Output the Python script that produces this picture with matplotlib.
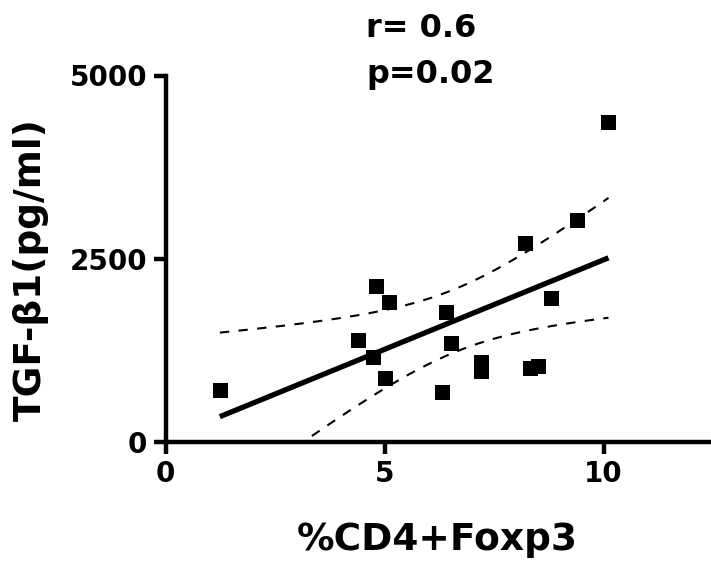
import matplotlib
matplotlib.use("Agg")
import matplotlib.pyplot as plt
import numpy as np

# %CD4+Foxp3 vs TGF-beta1 (pg/ml)
cd4_foxp3 = [1.24, 4.40, 4.81, 5.10, 4.74, 5.00, 10.11, 9.40, 8.21,
             8.80, 6.40, 6.51, 7.20, 7.20, 8.31, 8.51, 6.31]
tgf_b1 = [709, 1391, 2132, 1906, 1164, 869, 4361, 3028, 2711,
          1961, 1778, 1347, 1091, 969, 1006, 1041, 686]
x_ticks = [0, 5, 10]
y_ticks = [0, 2500, 5000]
stats_text = "r= 0.6\np=0.02"

x = np.array(cd4_foxp3)
y = np.array(tgf_b1)

# linear fit and 95% confidence band of the regression line
n = len(x)
slope, intercept = np.polyfit(x, y, 1)
resid = y - (slope * x + intercept)
s = np.sqrt(np.sum(resid ** 2) / (n - 2))
sxx = np.sum((x - x.mean()) ** 2)
t_crit = 2.131  # t(0.975, df=15)
xf = np.linspace(x.min(), x.max(), 200)
yf = slope * xf + intercept
half = t_crit * s * np.sqrt(1.0 / n + (xf - x.mean()) ** 2 / sxx)

W, H = 711, 567
fig = plt.figure(figsize=(W / 100, H / 100), dpi=100)
ax = fig.add_axes([165.5 / W, 125 / H, 545.5 / W, 366.5 / H])

ax.plot(x, y, "s", color="black", markersize=10.8, markeredgewidth=0)
ax.plot(xf, yf, color="black", lw=3.8, solid_capstyle="butt")
ax.plot(xf, yf + half, color="black", lw=1.5, dashes=(4.5, 4.5))
ax.plot(xf, yf - half, color="black", lw=1.5, dashes=(4.5, 4.5))

ax.set_xlim(0, 12.45)
ax.set_ylim(0, 5000)
ax.set_xticks(x_ticks)
ax.set_yticks(y_ticks)
for sp in ["top", "right"]:
    ax.spines[sp].set_visible(False)
for sp in ["left", "bottom"]:
    ax.spines[sp].set_linewidth(3.2)
ax.tick_params(width=3.2, length=8.6, pad=4.5, labelsize=20)
for lab in ax.get_xticklabels() + ax.get_yticklabels():
    lab.set_fontweight("bold")

fig.text(437.5 / W, 17 / H, "%CD4+Foxp3", fontsize=27, fontweight="bold",
         ha="center", va="baseline")
fig.text(13 / W, 1 - 270 / H, "TGF-\u03b21(pg/ml)", fontsize=27,
         fontweight="bold", rotation=90, ha="left", va="center")
fig.text(366 / W, 1 - 37 / H, "r= 0.6", fontsize=23, fontweight="bold",
         ha="left", va="baseline")
fig.text(366 / W, 1 - 83 / H, "p=0.02", fontsize=23, fontweight="bold",
         ha="left", va="baseline")

fig.savefig("out.png", dpi=100)
